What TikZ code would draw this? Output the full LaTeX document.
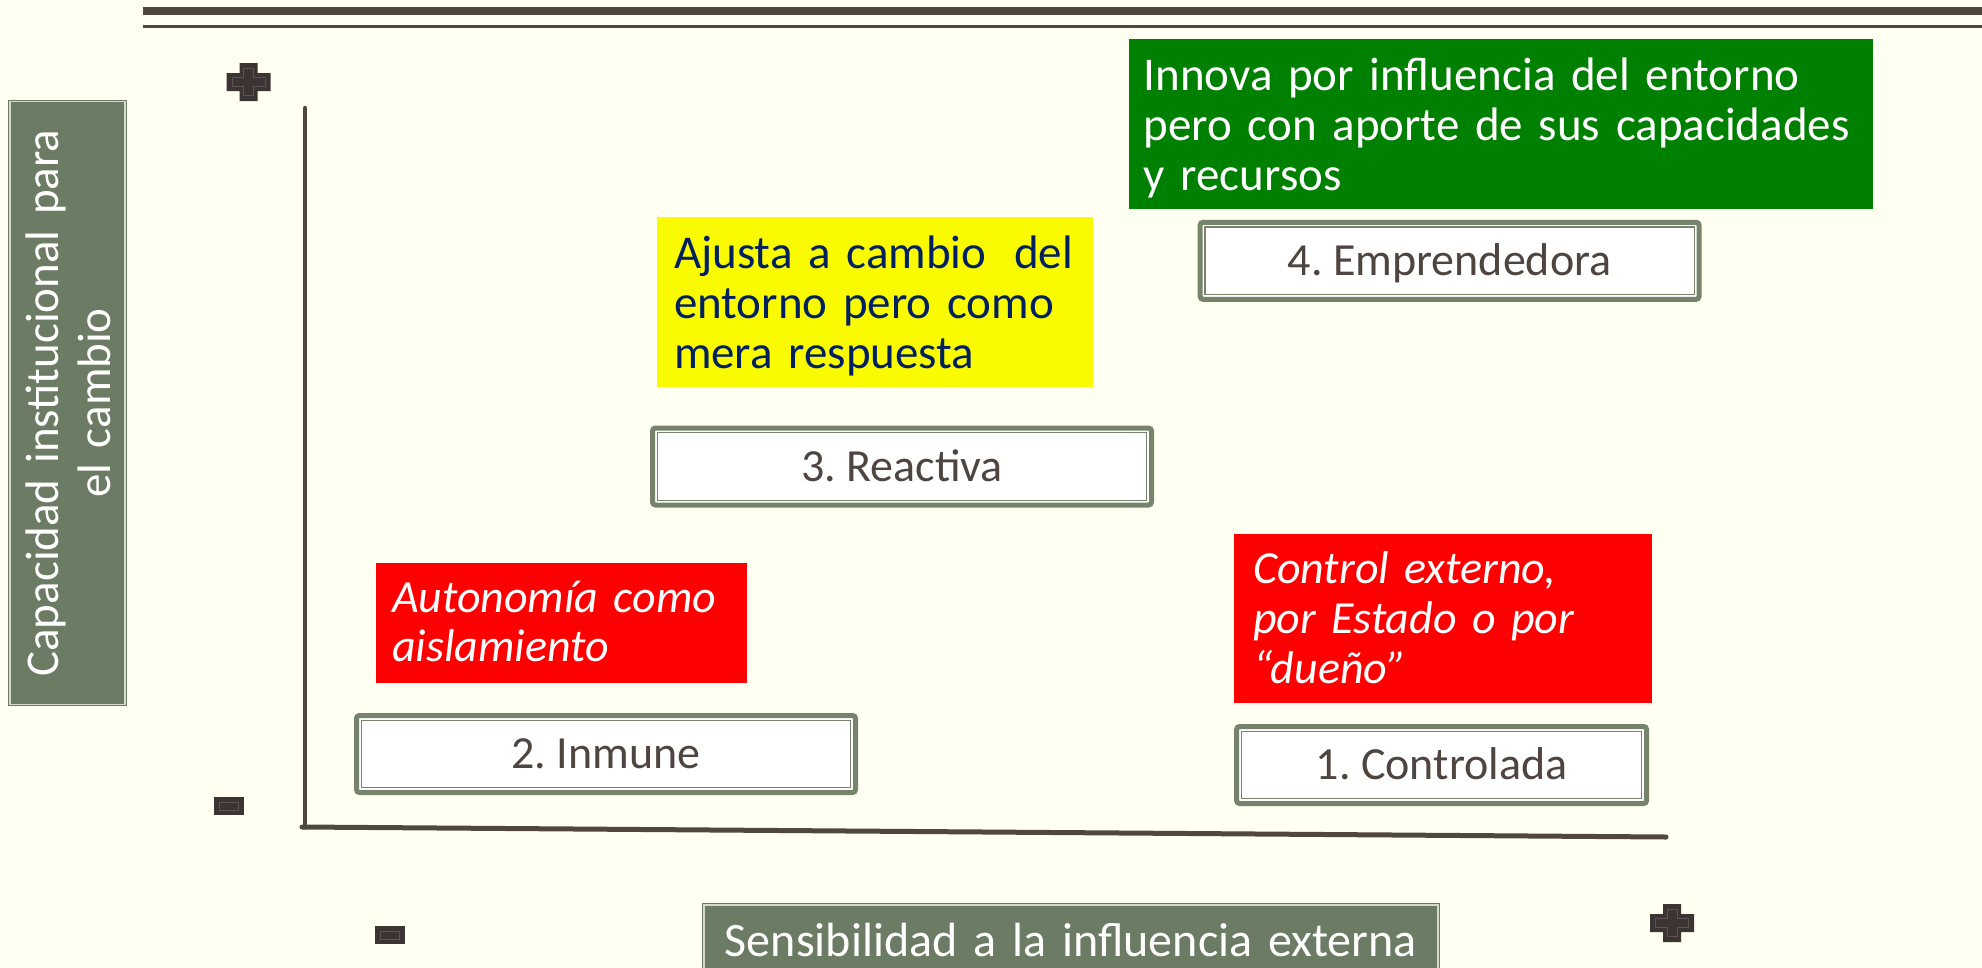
\documentclass[tikz,border=0pt]{standalone}
\usepackage{fontspec}
\setmainfont{Carlito}
\frenchspacing
\definecolor{bgc}{HTML}{FFFFF2}
\definecolor{linec}{HTML}{504840}
\definecolor{labgray}{HTML}{6C7B63}
\definecolor{labline}{HTML}{D5DACB}
\definecolor{boxg}{HTML}{76846C}
\definecolor{boxtext}{HTML}{4E4540}
\definecolor{signfill}{HTML}{3C3333}
\definecolor{signline}{HTML}{5E5353}
\definecolor{greenc}{HTML}{008000}
\definecolor{redc}{HTML}{FF0000}
\definecolor{yellowc}{HTML}{FAFA00}
\definecolor{navyc}{HTML}{002060}
\tikzset{
  numbox/.style={draw=boxg, line width=5pt, fill=white, rounded corners=3pt, outer sep=0pt, inner sep=0pt,
    minimum width=499pt, minimum height=77pt, text=boxtext, font=\fontsize{46}{50}\selectfont,
    text height=29.6pt, text depth=0pt},
  innerline/.style={draw=boxg, line width=1.3pt},
  notebox/.style={inner ysep=0pt, outer sep=0pt, align=left, text height=35pt},
  labelbox/.style={fill=labgray, draw=labgray, line width=3.5pt, outer sep=0pt, inner sep=0pt, text=white,
    postaction={draw=labline, line width=1.1pt}},
  axisline/.style={draw=linec, line width=5pt, line cap=round, line join=round},
  topline/.style={draw=linec},
  plussign/.pic={
    \fill[signfill] (-22,-9) -- (-9,-9) -- (-9,-19) -- (9,-19) -- (9,-9) -- (22,-9) -- (22,9) -- (9,9) -- (9,19) -- (-9,19) -- (-9,9) -- (-22,9) -- cycle;
    \draw[signline, line width=1pt] (-16.5,-4.5) -- (-5,-4.5) -- (-5,-13.5) -- (5,-13.5) -- (5,-4.5) -- (16.5,-4.5) -- (16.5,4.5) -- (5,4.5) -- (5,13.5) -- (-5,13.5) -- (-5,4.5) -- (-16.5,4.5) -- cycle;
  },
  minussign/.pic={
    \fill[signfill] (-15,-9) rectangle (15,9);
    \draw[signline, line width=1pt] (-9.5,-4) rectangle (9.5,4);
  }
}
\begin{document}
\begin{tikzpicture}[x=1pt, y=-1pt]
  \useasboundingbox (0,0) rectangle (1982,967);
  \fill[bgc] (0,0) rectangle (1982,967);
  % top rules
  \coordinate (t1a) at (143,11);  \coordinate (t1b) at (1982,11);
  \coordinate (t2a) at (143,26.5); \coordinate (t2b) at (1982,26.5);
  \draw[topline, line width=8pt] (t1a) -- (t1b);
  \draw[topline, line width=3pt] (t2a) -- (t2b);
  % axes
  \coordinate (ytop) at (305,108);
  \coordinate (orig) at (305,827);
  \coordinate (xstart) at (302,827);
  \coordinate (xend) at (1666,837);
  \draw[axisline, line width=4.5pt] (ytop) -- (orig);
  \draw[axisline] (xstart) -- (xend);
  % signs
  \pic at (248.5,82) {plussign};
  \pic at (229,806) {minussign};
  \pic at (389.5,935) {minussign};
  \pic at (1672,923) {plussign};
  % axis labels
  \node[labelbox, rotate=90, minimum width=603pt, minimum height=115pt, text width=590pt, align=center,
        font=\fontsize{47}{52}\selectfont, text height=35pt, text depth=54pt] (ylab) at (67.5,403)
        {Capacidad institucional para\\el cambio};
  \node[labelbox, minimum width=734pt, minimum height=72pt, text width=700pt, align=center,
        font=\fontsize{48}{50}\selectfont, text height=30pt, text depth=0pt] (xlab) at (1071,941)
        {Sensibilidad a la influencia externa};
  % notes
  \node[notebox, fill=greenc, text=white, font=\fontsize{47}{50}\selectfont,
        minimum width=744pt, minimum height=170pt, inner xsep=15pt, text width=714pt, text depth=103.4pt]
        (ngreen) at (1500.75,124.2)
        {Innova por influencia del entorno\\pero con aporte de sus capacidades\\y recursos};
  \node[notebox, fill=yellowc, text=navyc, font=\fontsize{47}{50}\selectfont,
        minimum width=436pt, minimum height=170pt, inner xsep=17pt, text width=402pt, text depth=102.4pt]
        (nyellow) at (875,301.7)
        {\mbox{Ajusta a cambio\hspace{28pt}del}\\\mbox{entorno pero como}\\\mbox{mera respuesta}};
  \node[notebox, fill=redc, text=white, font=\fontsize{46}{49}\selectfont\itshape,
        minimum width=370.7pt, minimum height=119.4pt, inner xsep=16pt, text width=338.7pt, text depth=55.6pt]
        (nredl) at (561.35,623)
        {\mbox{Autonomía como}\\aislamiento};
  \node[notebox, fill=redc, text=white, font=\fontsize{46}{50}\selectfont\itshape,
        minimum width=418pt, minimum height=169.3pt, inner xsep=19pt, text width=380pt, text depth=105.8pt]
        (nredr) at (1443,618.7)
        {Control externo,\\por Estado o por\\“dueño”};
  % numbered boxes
  \node[numbox] (b4) at (1449.6,260.8) {4. Emprendedora};
  \node[numbox] (b3) at (902,466.5) {3. Reactiva};
  \node[numbox] (b2) at (606,754) {2. Inmune};
  \node[numbox, minimum width=410pt] (b1) at (1441.6,765) {1. Controlada};
  \foreach \n in {b1,b2,b3,b4}
    \draw[innerline] ([shift={(4.8pt,-4.8pt)}]\n.north west) rectangle ([shift={(-4.8pt,4.8pt)}]\n.south east);
\end{tikzpicture}
\end{document}
